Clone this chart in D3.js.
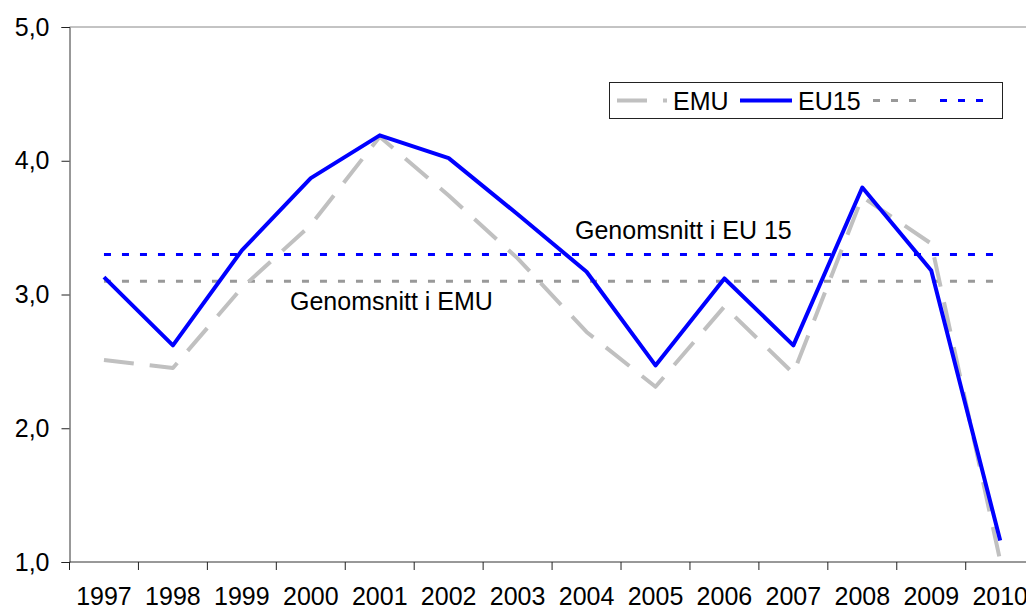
<!DOCTYPE html>
<html>
<head>
<meta charset="utf-8">
<script src="https://cdn.jsdelivr.net/npm/d3@7"></script>
<style>
  body { margin: 0; background: #fff; }
  svg { display: block; font-family: "Liberation Sans", Arial, sans-serif; }
</style>
</head>
<body>
<div id="chart"></div>
<script>
const years = ['1997', '1998', '1999', '2000', '2001', '2002', '2003', '2004', '2005', '2006', '2007', '2008', '2009', '2010'];
const emu = [2.51, 2.45, 3.05, 3.52, 4.18, 3.74, 3.27, 2.72, 2.31, 2.91, 2.41, 3.73, 3.38, 1.01];
const eu15 = [3.13, 2.62, 3.33, 3.87, 4.19, 4.02, 3.60, 3.17, 2.47, 3.12, 2.62, 3.80, 3.18, 1.16];
const emuAvg = years.map(() => 3.1);
const eu15Avg = years.map(() => 3.3);
const yTicks = [1, 2, 3, 4, 5];

const W = 1026, H = 610;
const plotLeft = 69.5, plotTop = 27, plotBottom = 562;
const bandW = 68.94;

const svg = d3.select('#chart').append('svg')
  .attr('width', W)
  .attr('height', H);

const x = d3.scaleBand()
  .domain(years)
  .range([plotLeft, plotLeft + bandW * years.length]);

const y = d3.scaleLinear()
  .domain([1, 5])
  .range([plotBottom, plotTop]);

const cx = d => x(d) + x.bandwidth() / 2;

// plot area top border
svg.append('line')
  .attr('x1', plotLeft).attr('x2', W)
  .attr('y1', y(5)).attr('y2', y(5))
  .attr('stroke', '#888').attr('stroke-width', 1);

// y axis
const yAxis = svg.append('g')
  .attr('transform', `translate(${plotLeft},0)`)
  .call(d3.axisLeft(y).tickValues(yTicks).tickSize(8).tickPadding(12)
    .tickFormat(d => d3.format('.1f')(d).replace('.', ',')));
yAxis.select('.domain').attr('stroke', '#333');
yAxis.selectAll('.tick line').attr('stroke', '#222');
yAxis.selectAll('text')
  .attr('fill', '#000')
  .style('font-size', '25px')
  .style('font-family', '"Liberation Sans", Arial, sans-serif');

// x axis: labels at centres, tick marks at category boundaries
const xAxis = svg.append('g')
  .attr('transform', `translate(0,${plotBottom})`)
  .call(d3.axisBottom(x).tickSize(0).tickPadding(0));
xAxis.select('.domain').remove();
xAxis.selectAll('text')
  .attr('y', 43)
  .attr('dy', 0)
  .attr('fill', '#000')
  .style('font-size', '25px')
  .style('font-family', '"Liberation Sans", Arial, sans-serif');

svg.append('line')
  .attr('x1', plotLeft).attr('x2', W)
  .attr('y1', plotBottom).attr('y2', plotBottom)
  .attr('stroke', '#333').attr('stroke-width', 1);

svg.selectAll('.xtick')
  .data(years)
  .enter()
  .append('line')
  .attr('class', 'xtick')
  .attr('x1', d => x(d)).attr('x2', d => x(d))
  .attr('y1', plotBottom).attr('y2', plotBottom + 8)
  .attr('stroke', '#222');

const line = d3.line()
  .x((d, i) => cx(years[i]))
  .y(d => y(d));

const series = [
  { name: 'emuAvg', values: emuAvg, color: '#999999', width: 3, dash: '7,11' },
  { name: 'eu15Avg', values: eu15Avg, color: '#0000ff', width: 3, dash: '7,11' },
  { name: 'EMU', values: emu, color: '#c0c0c0', width: 4, dash: '30,16' },
  { name: 'EU15', values: eu15, color: '#0000ff', width: 4, dash: null }
];

svg.selectAll('.series')
  .data(series)
  .enter()
  .append('path')
  .attr('class', 'series')
  .attr('fill', 'none')
  .attr('stroke', d => d.color)
  .attr('stroke-width', d => d.width)
  .attr('stroke-dasharray', d => d.dash)
  .attr('stroke-linejoin', 'round')
  .attr('d', d => line(d.values));

// annotations
svg.append('text')
  .attr('x', 575).attr('y', 239)
  .style('font-size', '25px')
  .text('Genomsnitt i EU 15');

svg.append('text')
  .attr('x', 290).attr('y', 310)
  .style('font-size', '25px')
  .text('Genomsnitt i EMU');

// legend
const legend = svg.append('g');
legend.append('rect')
  .attr('x', 609.5).attr('y', 82.5)
  .attr('width', 393).attr('height', 36)
  .attr('fill', '#fff')
  .attr('stroke', '#222');

const legendItems = [
  { s: series[2], x0: 617, x1: 667, label: 'EMU' },
  { s: series[3], x0: 740, x1: 792, label: 'EU15' },
  { s: series[0], x0: 873, x1: 916, label: '' },
  { s: series[1], x0: 940, x1: 983, label: '' }
];

legendItems.forEach(it => {
  legend.append('line')
    .attr('x1', it.x0).attr('x2', it.x1)
    .attr('y1', 100.5).attr('y2', 100.5)
    .attr('stroke', it.s.color)
    .attr('stroke-width', it.s.width)
    .attr('stroke-dasharray', it.s.dash);
  if (it.label) {
    legend.append('text')
      .attr('x', it.x1 + 6).attr('y', 109.5)
      .style('font-size', '25px')
      .text(it.label);
  }
});
</script>
</body>
</html>
